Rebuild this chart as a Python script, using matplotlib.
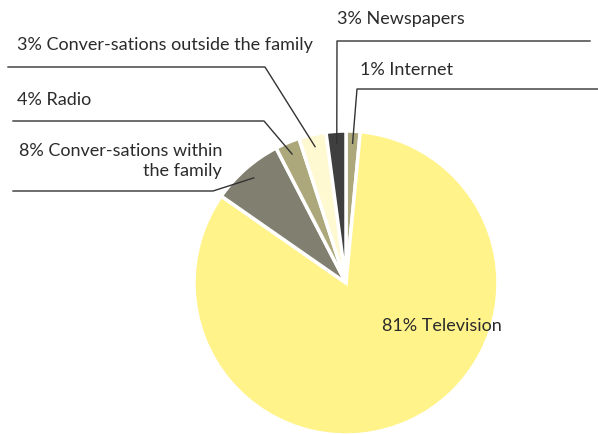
import numpy as np
import matplotlib
matplotlib.use("Agg")
import matplotlib.pyplot as plt

# wedge shares as drawn (clockwise from 12 o'clock), label text as printed
names = ["Internet", "Television", "Conver-sations within\nthe family", "Radio",
         "Conver-sations outside the family", "Newspapers"]
shares = [1.5, 83.1, 7.7, 2.6, 2.9, 2.1]
pct_labels = ["1%", "81%", "8%", "4%", "3%", "3%"]
colors = ["#aca87c", "#fff38a", "#818070", "#aca87c", "#fff9d2", "#3f3f3f"]

plt.rcParams['font.family'] = ['Lato', 'DejaVu Sans']

W, H = 598, 435
fig = plt.figure(figsize=(W / 100, H / 100), dpi=100)
ax = fig.add_axes([0, 0, 1, 1])

cx, cy, R = 346, H - 284, 152
wedges, _ = ax.pie(shares, colors=colors, startangle=90, counterclock=False,
                   center=(cx, cy), radius=R,
                   wedgeprops=dict(edgecolor="white", linewidth=2.5))
ax.set_xlim(0, W)
ax.set_ylim(0, H)
ax.set_aspect("equal")
ax.axis("off")

txt = "#2b2b2b"
fs = 13

def anchor(w, frac=0.92):
    a = np.deg2rad((w.theta1 + w.theta2) / 2)
    return cx + frac * R * np.cos(a), cy + frac * R * np.sin(a)

# label layout: (text x, text y, ha, line y, line x start, line x elbow)
layout = {
    0: (360, 70, "left", 90, 598, 357),
    5: (337, 19, "left", 42, 590, 337),
    4: (17, 45, "left", 68, 8, 265),
    3: (17, 100, "left", 122, 13, 264),
    2: (222, 161, "right", 192, 13, 213),
}
for i, (tx, ty, ha, ly, lx0, lx1) in layout.items():
    ax.text(tx, H - ty, pct_labels[i] + " " + names[i], ha=ha, va="center",
            fontsize=fs, color=txt, linespacing=1.3)
    px, py = anchor(wedges[i])
    ax.plot([lx0, lx1, px], [H - ly, H - ly, py], color="#333333", lw=1)

# television label sits inside its wedge
ax.text(442, H - 326, pct_labels[1] + " " + names[1], ha="center", va="center",
        fontsize=fs, color=txt)

fig.savefig("out.png", dpi=100)
